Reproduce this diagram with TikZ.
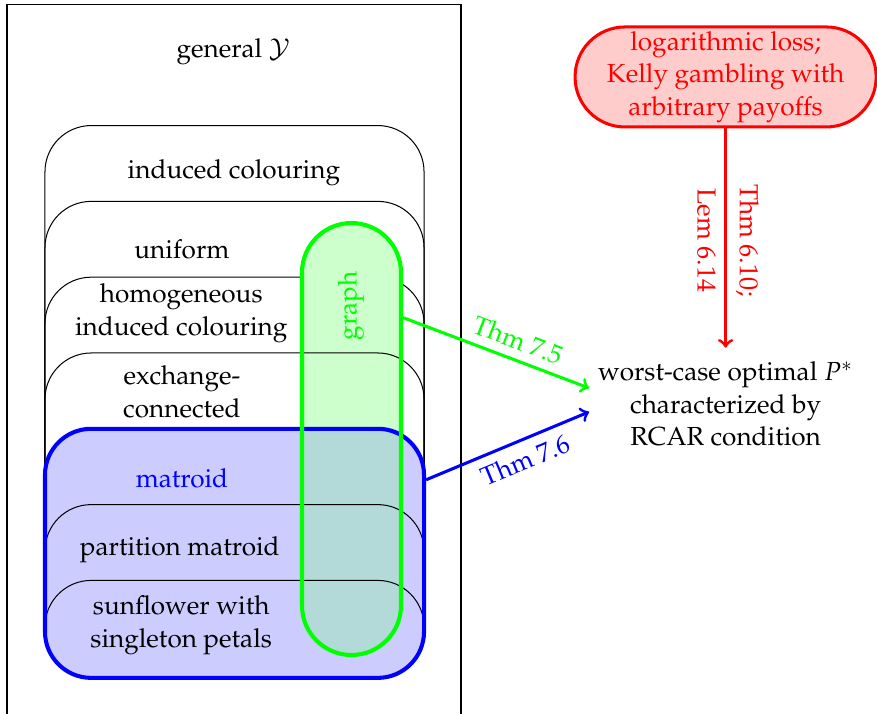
\documentclass[tikz,border=0pt]{standalone}
\usepackage[T1]{fontenc}
\usepackage{mathpazo}
\definecolor{overlap}{RGB}{179,217,217}
\begin{document}
\begin{tikzpicture}[font=\fontsize{10.3pt}{12.8pt}\selectfont]
\tikzstyle{region} = [draw=black, rounded corners=0.64cm]
\tikzstyle{lab} = [align=center, inner sep=1pt]
\tikzstyle{pill} = [ultra thick, inner sep=0pt]
\tikzstyle{thm} = [very thick, ->]
\clip (0,0) rectangle (12.147,9.889);
% outer box
\draw (0.097,-1) rectangle (6.385,9.82);
\node[lab] (gen) at (3.23,9.17) {general $\mathcal{Y}$};
% nested classes
\draw[region] (0.623,0.5) rectangle (5.873,8.15);
\node[lab] (ind) at (3.24,7.5) {induced colouring};
\draw[region] (0.623,0.5) rectangle (5.873,7.1);
\node[lab] (uni) at (2.52,6.43) {uniform};
\draw[region] (0.623,0.5) rectangle (5.873,6.05);
\node[lab] (hom) at (2.51,5.55) {homogeneous\\ induced colouring};
\node[pill, fill=green!20, rounded corners=0.685cm, minimum width=1.371cm, minimum height=5.983cm] (graphbox) at (4.8685,3.8085) {};
\draw[region] (0.623,0.5) rectangle (5.873,5.0);
\node[lab] (exc) at (2.52,4.46) {exchange-\\ connected};
\node[pill, fill=blue!20, rounded corners=0.64cm, minimum width=5.25cm, minimum height=3.45cm] (matroidbox) at (3.248,2.225) {};
% where graph and matroid meet
\begin{scope}
\clip[rounded corners=0.64cm] (matroidbox.south west) rectangle (matroidbox.north east);
\fill[overlap, rounded corners=0.685cm] (graphbox.south west) rectangle (graphbox.north east);
\end{scope}
\draw[region] (0.623,0.5) rectangle (5.873,2.9);
\draw[region] (0.623,0.5) rectangle (5.873,1.85);
\node[pill, draw=blue, rounded corners=0.64cm, minimum width=5.25cm, minimum height=3.45cm] (matroidrim) at (matroidbox) {};
\node[pill, draw=green, rounded corners=0.685cm, minimum width=1.371cm, minimum height=5.983cm] (graphrim) at (graphbox) {};
\node[lab, blue] (mat) at (2.52,3.27) {matroid};
\node[lab] (par) at (2.49,2.27) {partition matroid};
\node[lab] (sun) at (2.51,1.23) {sunflower with\\ singleton petals};
\node[lab, green, rotate=90] (graph) at (4.86,5.65) {graph};
% results
\node[pill, very thick, draw=red, fill=red!20, text=red, align=center, rounded corners=0.69cm, minimum width=4.17cm, minimum height=1.385cm] (loss) at (10.05,8.823) {logarithmic loss;\\ Kelly gambling with\\ arbitrary payoffs};
\node[align=center] (opt) at (10.05,4.294) {worst-case optimal $P^*$\\ characterized by\\ RCAR condition};
\draw[thm, red, shorten >=2pt] (loss) -- (opt) node[midway, sloped, above] (thmA) {Thm 6.10;} node[midway, sloped, below] (lemA) {Lem 6.14};
\draw[thm, green] (graphbox.67) -- ([yshift=0.22cm]opt.west) node[pos=0.58, sloped, above] (thmB) {Thm 7.5};
\draw[thm, blue] (matroidbox.21) -- ([yshift=-0.11cm]opt.west) node[pos=0.56, sloped, below] (thmC) {Thm 7.6};
\end{tikzpicture}
\end{document}
